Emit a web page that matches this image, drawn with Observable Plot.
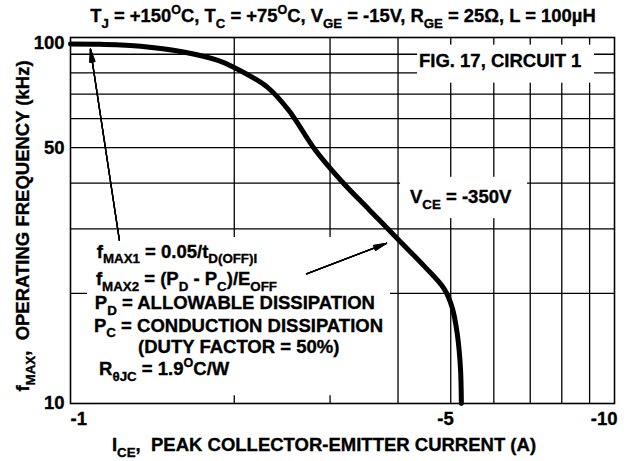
<!DOCTYPE html>
<html><head><meta charset="utf-8">
<script src="https://cdn.jsdelivr.net/npm/d3@7"></script>
<script src="https://cdn.jsdelivr.net/npm/@observablehq/plot@0.6"></script>
<style>
body{margin:0;background:#fff}
svg{display:block}
</style>
</head><body><div id="chart"></div>
<script>
// ---- data ----
const currentA = [-1.0, -1.135, -1.345, -1.613, -1.861, -1.99, -2.30, -2.52, -2.82, -3.16, -3.55, -3.99, -4.46, -4.86, -5.03, -5.14, -5.21, -5.23];
const freqKHz  = [96.0, 95.8, 94.7, 91.3, 86.7, 83.1, 73.2, 63.2, 49.2, 40.3, 33.7, 28.2, 23.8, 20.6, 18.3, 15.5, 12.5, 10.0];

const xGrid = [-2, -3, -4, -5, -6, -7, -8, -9];
const yGrid = [20, 30, 40, 50, 60, 70, 80, 90];
const xTickLabels = [-1, -5, -10];
const yTickLabels = [100, 50, 10];

const titleText = "T_{J} = +150^{O}C, T_{C} = +75^{O}C, V_{GE} = -15V, R_{GE} = 25Ω, L = 100µH";
const xLabel = "I_{CE},  PEAK COLLECTOR-EMITTER CURRENT (A)";
const yLabel = "f_{MAX},  OPERATING FREQUENCY (kHz)";

// annotation text (data coordinates of text start)
const noteX = [-1.12, -1.116, -1.111, -1.107, -1.334, -1.131, -4.38, -4.217];
const noteY = [24.93, 21.0, 18.01, 15.64, 13.70, 11.91, 82.6, 35.1];
const noteText = [
  "f_{MAX1} = 0.05/t_{D(OFF)I}",
  "f_{MAX2} = (P_{D} - P_{C})/E_{OFF}",
  "P_{D} = ALLOWABLE DISSIPATION",
  "P_{C} = CONDUCTION DISSIPATION",
  "(DUTY FACTOR = 50%)",
  "R_{θJC} = 1.9^{O}C/W",
  "FIG. 17, CIRCUIT 1",
  "V_{CE} = -350V"
];

// white label backgrounds (data coordinates)
const maskX1 = [-1.075, -4.345, -4.043];
const maskX2 = [-3.875, -9.19, -6.92];
const maskY1 = [10.5, 75.0, 32.0];
const maskY2 = [28.4, 95.3, 41.5];

// arrows (data coordinates)
const arrowX1 = [-1.23, -2.716];
const arrowY1 = [27.9, 22.6];
const arrowX2 = [-1.088, -3.81];
const arrowY2 = [92.9, 27.4];

// ---- build tables ----
const curve = currentA.map((x, i) => ({x, y: freqKHz[i]}));
const masks = maskX1.map((x1, i) => ({x1, x2: maskX2[i], y1: maskY1[i], y2: maskY2[i]}));
const arrows = arrowX1.map((x1, i) => ({x1, y1: arrowY1[i], x2: arrowX2[i], y2: arrowY2[i]}));
const notes = noteText.map((t, i) => ({x: noteX[i], y: noteY[i], t}));

const FONT = "'Liberation Sans', Arial, Helvetica, sans-serif";
const FS = 18.5;
const W = 628, H = 461;
const txt = {fontSize: FS, fontWeight: "bold", fill: "black", stroke: "black", strokeWidth: 0.35};

const arrowMarks = [6, 12, 18, 24].map(a =>
  Plot.arrow(arrows, {x1: "x1", y1: "y1", x2: "x2", y2: "y2", stroke: "black", strokeWidth: 1.3, headLength: 15, headAngle: a}));

const plot = Plot.plot({
  width: W, height: H,
  marginTop: 37, marginBottom: 58, marginLeft: 70, marginRight: 14,
  style: {fontFamily: FONT, background: "white", color: "black"},
  x: {type: "log", domain: [-1, -10], axis: null},
  y: {type: "log", domain: [10, 100], axis: null},
  marks: [
    Plot.ruleX(xGrid, {x: d => d, stroke: "black", strokeWidth: 1.3}),
    Plot.ruleY(yGrid, {y: d => d, stroke: "black", strokeWidth: 1.3}),
    Plot.rect(masks, {x1: "x1", x2: "x2", y1: "y1", y2: "y2", fill: "white"}),
    Plot.frame({stroke: "black", strokeWidth: 1.6}),
    Plot.line(curve, {x: "x", y: "y", stroke: "black", strokeWidth: 5, curve: "catmull-rom"}),
    ...arrowMarks,
    Plot.text(yTickLabels.slice(0, 1), {x: -1, y: d => d, text: d => String(d), textAnchor: "end", dx: -6, dy: 6, ...txt}),
    Plot.text(yTickLabels.slice(1), {x: -1, y: d => d, text: d => String(d), textAnchor: "end", dx: -6, ...txt}),
    Plot.text(xTickLabels.slice(0, 1), {x: d => d, y: 10, text: d => String(d), textAnchor: "start", dy: 16, ...txt}),
    Plot.text(xTickLabels.slice(1), {x: d => d, y: 10, text: d => String(d), textAnchor: "end", dx: 3, dy: 16, ...txt})
  ]
});
document.getElementById("chart").appendChild(plot);

// ---- rich text (sub/superscripts) ----
function rich(parent, str, x, y, opts = {}) {
  const fs = opts.fontSize || FS;
  const t = parent.append("text")
    .attr("x", x).attr("y", y)
    .attr("font-family", FONT).attr("font-weight", "bold")
    .attr("font-size", fs).attr("fill", "black")
    .attr("stroke", "black").attr("stroke-width", 0.35)
    .attr("text-anchor", opts.anchor || "start");
  if (opts.rotate) t.attr("transform", `rotate(${opts.rotate} ${x} ${y})`);
  const re = /(_|\^)\{([^}]*)\}/g;
  let last = 0, shift = 0, m;
  const add = (s, target, size) => {
    if (!s) return;
    t.append("tspan").attr("dy", target - shift).attr("font-size", size).text(s);
    shift = target;
  };
  while ((m = re.exec(str))) {
    add(str.slice(last, m.index), 0, fs);
    if (m[1] === "_") add(m[2], fs * 0.3, fs * 0.72);
    else add(m[2], -fs * 0.42, fs * 0.68);
    last = re.lastIndex;
  }
  add(str.slice(last), 0, fs);
  return t;
}

const sx = plot.scale("x"), sy = plot.scale("y");
const g = d3.select(plot).append("g");
rich(g, titleText, 343, 22, {anchor: "middle", fontSize: 18.4});
rich(g, xLabel, 324, 451, {anchor: "middle"});
rich(g, yLabel, 29, 226, {anchor: "middle", rotate: -90});
notes.forEach(n => rich(g, n.t, sx.apply(n.x), sy.apply(n.y)));
</script>
</body></html>
